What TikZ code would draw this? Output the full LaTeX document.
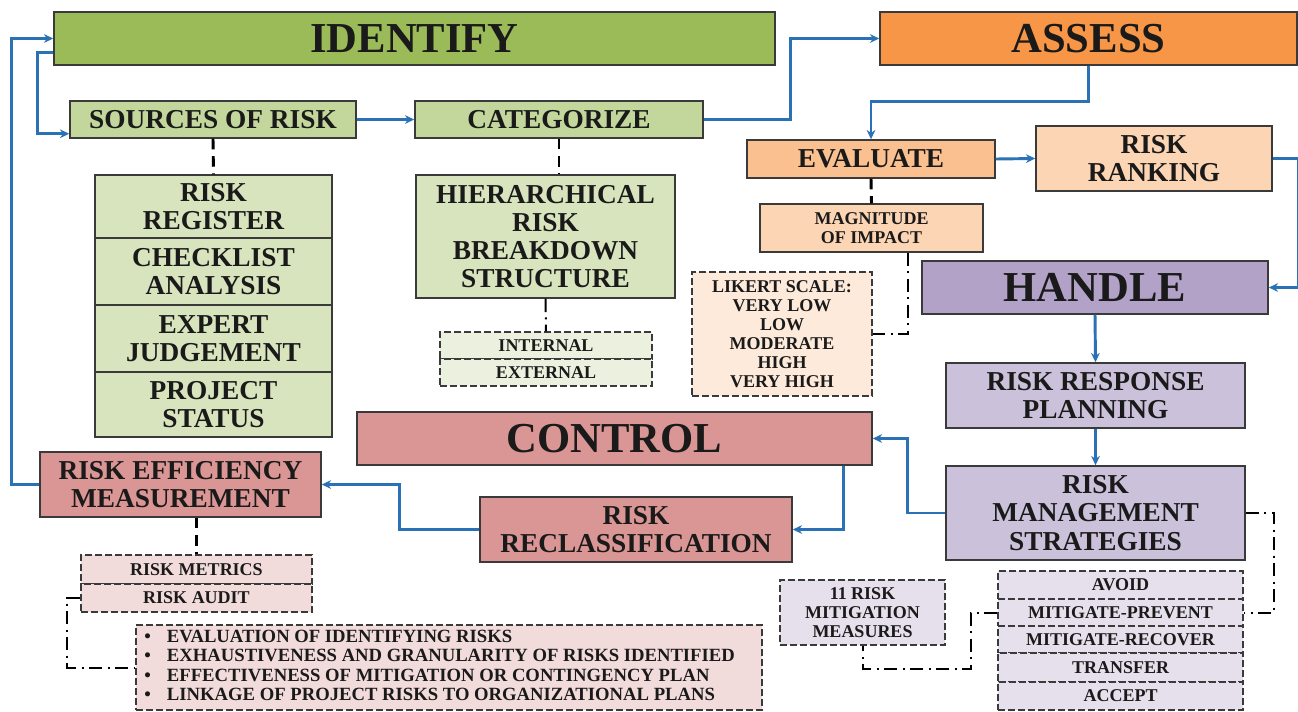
\documentclass[tikz,border=0pt]{standalone}
\usepackage{fontspec}
\setmainfont{Liberation Serif}
\usetikzlibrary{arrows.meta,calc}
\definecolor{idgreen}{HTML}{9BBB59}
\definecolor{srcgreen}{HTML}{C3D69B}
\definecolor{ltgreen}{HTML}{D7E4BD}
\definecolor{pagreen}{HTML}{EBF1DE}
\definecolor{asorange}{HTML}{F79646}
\definecolor{evorange}{HTML}{FAC090}
\definecolor{ltorange}{HTML}{FCD5B5}
\definecolor{paorange}{HTML}{FDEADA}
\definecolor{hapurple}{HTML}{B3A2C7}
\definecolor{ltpurple}{HTML}{CCC1DA}
\definecolor{papurple}{HTML}{E5E0EC}
\definecolor{ctred}{HTML}{D99694}
\definecolor{pared}{HTML}{F2DCDB}
\definecolor{flowblue}{HTML}{2A72B5}
\definecolor{bordergray}{HTML}{3A3A3A}
\definecolor{txt}{HTML}{1A1A1A}
\newcommand\fbig{\bfseries\fontsize{32}{34}\selectfont}
\newcommand\fmid{\bfseries\fontsize{20.5}{21.2}\selectfont}
\newcommand\fsml{\bfseries\fontsize{13.5}{14.3}\selectfont}
\newcommand\mybox[7]{\node[#1, minimum width={(#4-#2)*0.75pt}, minimum height={(#5-#3)*0.75pt}] (#6) at ({(#2+#4)/2},{(#3+#5)/2}) {#7};}
\tikzset{
  box/.style={draw=bordergray, line width=1.1pt, inner sep=0pt, align=center, text=txt},
  dbox/.style={box, line width=0.9pt, dash pattern=on 5pt off 2.5pt},
  flow/.style={draw=flowblue, line width=2.2pt, -{Stealth[length=7pt,width=6.5pt]}},
  link/.style={draw=black, line width=2.2pt, dash pattern=on 8pt off 5pt},
  dlink/.style={draw=black, line width=1.5pt, dash pattern=on 10pt off 4pt on 1.5pt off 4pt},
}
\begin{document}
\begin{tikzpicture}[x=0.75pt,y=-0.75pt]
\useasboundingbox[fill=white] (0,0) rectangle (1298,711);
% IDENTIFY
\mybox{box,fill=idgreen,font=\fbig}{54}{12}{775}{65}{idf}{IDENTIFY}
\mybox{box,fill=srcgreen,font=\fmid}{70}{101}{356}{138}{src}{SOURCES OF RISK}
\mybox{box,fill=srcgreen,font=\fmid}{415}{101}{703}{138}{cat}{CATEGORIZE}
\mybox{box,fill=ltgreen,font=\fmid}{95}{175}{332}{238}{reg}{RISK\\REGISTER}
\mybox{box,fill=ltgreen,font=\fmid}{95}{238}{332}{305}{chk}{CHECKLIST\\ANALYSIS}
\mybox{box,fill=ltgreen,font=\fmid}{95}{305}{332}{372}{exp}{EXPERT\\JUDGEMENT}
\mybox{box,fill=ltgreen,font=\fmid}{95}{372}{332}{437}{prj}{PROJECT\\STATUS}
\mybox{box,fill=ltgreen,font=\fmid}{416}{175}{675}{298}{hier}{HIERARCHICAL\\RISK\\BREAKDOWN\\STRUCTURE}
\mybox{dbox,fill=pagreen,font=\fsml}{440}{332}{652}{359}{intl}{INTERNAL}
\mybox{dbox,fill=pagreen,font=\fsml}{440}{359}{652}{386}{extl}{EXTERNAL}
% ASSESS
\mybox{box,fill=asorange,font=\fbig}{880}{12}{1297}{65}{ass}{ASSESS}
\mybox{box,fill=evorange,font=\fmid}{747}{140}{995}{178}{eva}{EVALUATE}
\mybox{box,fill=ltorange,font=\fmid}{1036}{126}{1272}{191}{rank}{RISK\\RANKING}
\mybox{box,fill=ltorange,font=\fsml}{760}{204}{983}{252}{mag}{MAGNITUDE\\OF IMPACT}
\mybox{dbox,fill=paorange,font=\fsml}{692}{272}{872}{396}{lik}{LIKERT SCALE:\\VERY LOW\\LOW\\MODERATE\\HIGH\\VERY HIGH}
% HANDLE
\mybox{box,fill=hapurple,font=\fbig}{922}{261}{1268}{314}{han}{HANDLE}
\mybox{box,fill=ltpurple,font=\fmid}{946}{363}{1245}{428}{rrp}{RISK RESPONSE\\PLANNING}
\mybox{box,fill=ltpurple,font=\fmid}{946}{466}{1245}{560}{rms}{RISK\\MANAGEMENT\\STRATEGIES}
\mybox{dbox,fill=papurple,font=\fsml}{998}{571}{1243}{599}{avd}{AVOID}
\mybox{dbox,fill=papurple,font=\fsml}{998}{599}{1243}{626}{prev}{MITIGATE-PREVENT}
\mybox{dbox,fill=papurple,font=\fsml}{998}{626}{1243}{653}{recv}{MITIGATE-RECOVER}
\mybox{dbox,fill=papurple,font=\fsml}{998}{653}{1243}{682}{trf}{TRANSFER}
\mybox{dbox,fill=papurple,font=\fsml}{998}{682}{1243}{710}{acc}{ACCEPT}
\mybox{dbox,fill=papurple,font=\fsml}{780}{580}{945}{645}{mit}{11 RISK\\MITIGATION\\MEASURES}
% CONTROL
\mybox{box,fill=ctred,font=\fbig}{357}{412}{872}{465}{ctl}{CONTROL}
\mybox{box,fill=ctred,font=\fmid}{480}{497}{792}{562}{rec}{RISK\\RECLASSIFICATION}
\mybox{box,fill=ctred,font=\fmid}{40}{452}{321}{517}{rem}{RISK EFFICIENCY\\MEASUREMENT}
\mybox{dbox,fill=pared,font=\fsml}{81}{555}{312}{584}{met}{RISK METRICS}
\mybox{dbox,fill=pared,font=\fsml}{81}{584}{312}{612}{aud}{RISK AUDIT}
\mybox{dbox,fill=pared,font=\bfseries\fontsize{14}{14.6}\selectfont}{136}{625}{762}{710}{bul}{%
\begin{tabular}{@{}l@{\hspace{14pt}}}
\textbullet\hspace{12pt}EVALUATION OF IDENTIFYING RISKS\\
\textbullet\hspace{12pt}EXHAUSTIVENESS AND GRANULARITY OF RISKS IDENTIFIED\\
\textbullet\hspace{12pt}EFFECTIVENESS OF MITIGATION OR CONTINGENCY PLAN\\
\textbullet\hspace{12pt}LINKAGE OF PROJECT RISKS TO ORGANIZATIONAL PLANS
\end{tabular}}
% blue flow connectors
\draw[flow] (rem.west) -- ++(-28,0) |- (idf.west);
\draw[flow] ([yshift=9.75pt]idf.south west) -- ++(-16,0) |- ([yshift=3.75pt]src.south west);
\draw[flow] (src.east) -- (cat.west);
\draw[flow] (cat.east) -- ++(87,0) |- (ass.west);
\draw[flow] (ass.south) -- ++(0,36) -| (eva.north);
\draw[flow] (eva.east) -- (rank.west);
\draw[flow] (rank.east) -- ++(26,0) |- (han.east);
\draw[flow] (han.south) -- (rrp.north);
\draw[flow] (rrp.south) -- (rms.north);
\draw[flow] (rms.west) -- ++(-38,0) |- (ctl.east);
\draw[flow] ([xshift=-21.75pt]ctl.south east) |- (rec.east);
\draw[flow] (rec.west) -- ++(-80,0) |- (rem.east);
% black dashed links
\draw[link] (src.south) -- (reg.north);
\draw[link] (cat.south) -- (cat.south |- hier.north);
\draw[link] (eva.south) -- (mag.north);
\draw[link] (met.north |- rem.south) -- (met.north);
% dash-dot links
\draw[dlink] (hier.south) -- (intl.north);
\draw[dlink] ([xshift=27.4pt]mag.south) |- (lik.east);
\draw[dlink] (rms.east) -- ++(28,0) |- (prev.east);
\draw[dlink] (prev.west) -- ++(-26,0) -- ++(0,56) -| (mit.south);
\draw[dlink] (aud.west) -- ++(-13,0) |- (bul.west);
\end{tikzpicture}
\end{document}
